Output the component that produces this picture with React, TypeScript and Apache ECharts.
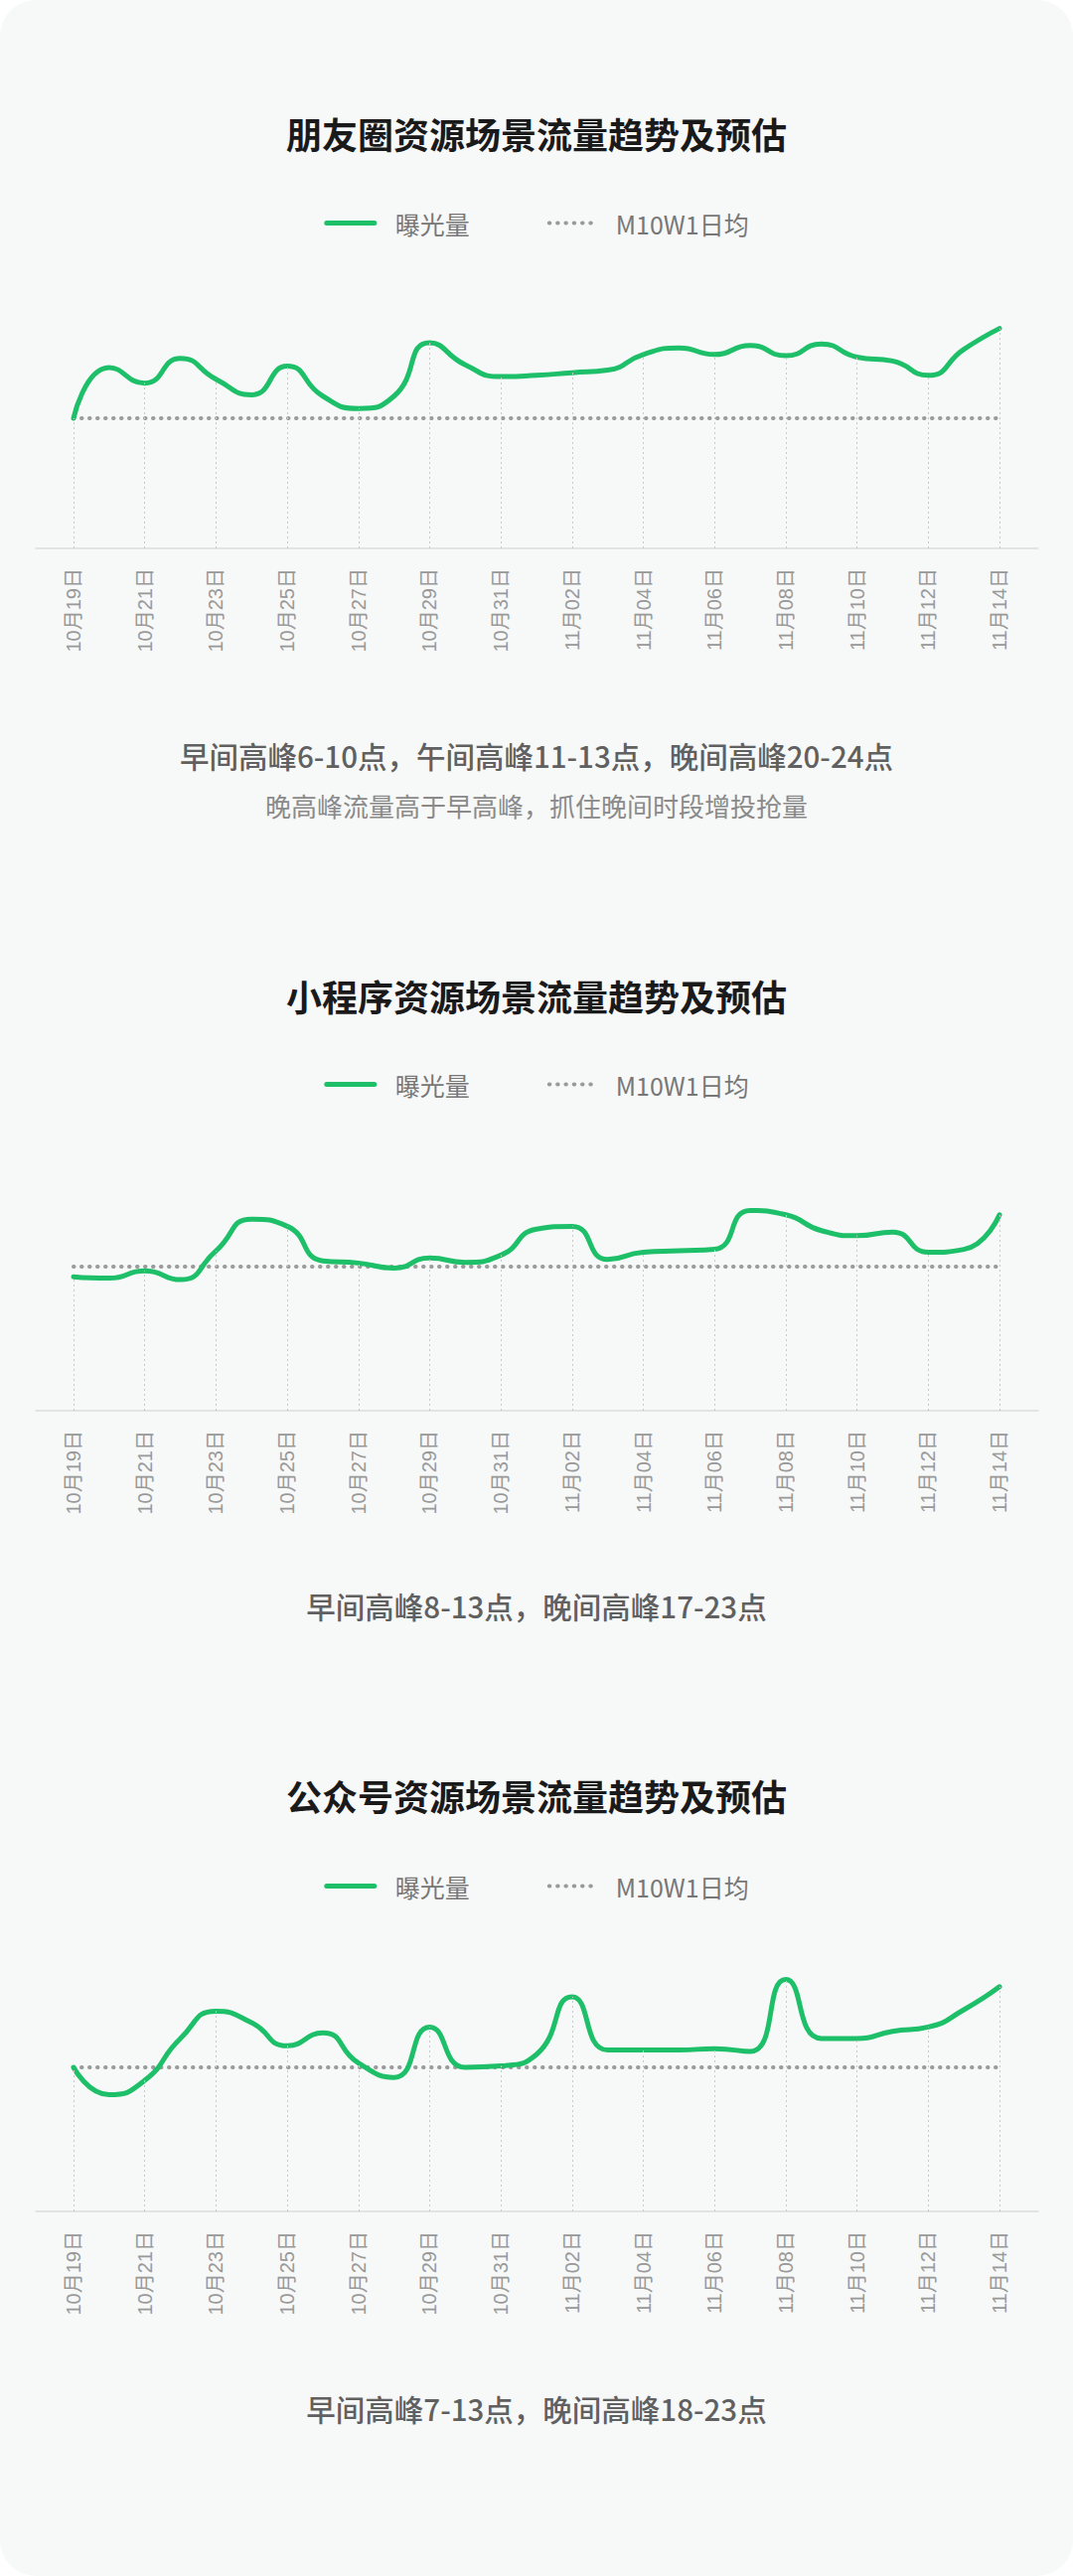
import React, { useEffect, useRef } from 'react';
import * as echarts from 'echarts';

const categories = [
  '10月19日', '10月20日', '10月21日', '10月22日', '10月23日', '10月24日', '10月25日',
  '10月26日', '10月27日', '10月28日', '10月29日', '10月30日', '10月31日', '11月01日',
  '11月02日', '11月03日', '11月04日', '11月05日', '11月06日', '11月07日', '11月08日',
  '11月09日', '11月10日', '11月11日', '11月12日', '11月13日', '11月14日',
];

// 曝光量, scaled so that the M10W1 daily average of each scene is 100
const momentsValues = [100, 139, 127, 146, 130, 118, 140, 117, 107.5, 117, 158, 141, 132, 133, 135, 137, 149, 154, 149, 156, 148, 157, 147, 144, 133, 153, 169];
const miniProgramValues = [93, 92, 97, 91, 111, 133, 128, 104, 102.5, 99, 106, 103, 108, 126, 128, 105, 110, 111, 112, 139, 136, 125, 121.5, 124, 110, 112, 136];
const officialValues = [100, 81, 91, 120, 139, 131, 115, 124, 103, 93, 128, 100, 101, 109, 149, 112, 112, 112, 113, 111, 161, 120, 120, 125, 128, 140, 156];
const dailyAverages = [100, 100, 100];

const seriesNames = ['曝光量', 'M10W1日均'];
const titles = ['朋友圈资源场景流量趋势及预估', '小程序资源场景流量趋势及预估', '公众号资源场景流量趋势及预估'];
const notes = [
  ['早间高峰6-10点，午间高峰11-13点，晚间高峰20-24点', '晚高峰流量高于早高峰，抓住晚间时段增投抢量'],
  ['早间高峰8-13点，晚间高峰17-23点'],
  ['早间高峰7-13点，晚间高峰18-23点'],
];

const GREEN = '#1dbf68';
const GREY = '#9a9a9a';
const NONE = 'rgba(0,0,0,0)';
const FONT = '"Noto Sans CJK SC", "Noto Sans", sans-serif';
const LABEL_FONT = '"Liberation Sans", "Noto Sans CJK SC", sans-serif';

// vertical layout of the three panels
const panels = [
  { values: momentsValues, title: 134, legend: 219, top: 290, height: 262, notes: [760, 810] },
  { values: miniProgramValues, title: 1002, legend: 1086, top: 1130, height: 290, notes: [1616] },
  { values: officialValues, title: 1807, legend: 1893, top: 1936, height: 290, notes: [2424] },
];

export default function App() {
  const chartRef = useRef<HTMLDivElement>(null);

  useEffect(() => {
    document.body.style.margin = '0';
    if (!chartRef.current) return;
    const chart = echarts.init(chartRef.current, undefined, { renderer: 'svg' });

    const grid: any[] = [];
    const xAxis: any[] = [];
    const yAxis: any[] = [];
    const series: any[] = [];
    const legend: any[] = [];
    const graphic: any[] = [];

    panels.forEach((p, k) => {
      grid.push({ left: 74, right: 74, top: p.top, height: p.height });
      grid.push({ left: 36, right: 35, top: p.top, height: p.height });

      xAxis.push({
        type: 'category',
        gridIndex: 2 * k,
        data: categories,
        boundaryGap: false,
        axisLine: { show: false },
        axisTick: { show: false },
        splitLine: { show: false },
        axisLabel: {
          interval: 1,
          rotate: 90,
          margin: 20,
          color: '#999',
          fontSize: 20,
          fontFamily: LABEL_FONT,
        },
      });
      xAxis.push({
        type: 'value',
        gridIndex: 2 * k + 1,
        min: 0,
        max: 1,
        axisLine: { show: true, lineStyle: { color: '#dcdcdc', width: 1.5 } },
        axisTick: { show: false },
        axisLabel: { show: false },
        splitLine: { show: false },
      });
      yAxis.push({ type: 'value', gridIndex: 2 * k, min: 0, max: 200, show: false });
      yAxis.push({ type: 'value', gridIndex: 2 * k + 1, min: 0, max: 1, show: false });

      const drops = categories
        .map((c, i) => ({ c, v: p.values[i], i }))
        .filter((d) => d.i % 2 === 0)
        .map((d) => [{ coord: [d.c, 0] }, { coord: [d.c, d.v] }]);

      series.push({
        name: seriesNames[0],
        type: 'line',
        xAxisIndex: 2 * k,
        yAxisIndex: 2 * k,
        data: p.values,
        smooth: 0.55,
        symbol: 'none',
        z: 3,
        lineStyle: { color: GREEN, width: 5, cap: 'round' },
        itemStyle: { color: GREEN },
        markLine: {
          silent: true,
          symbol: ['none', 'none'],
          label: { show: false },
          lineStyle: { color: '#c9c9c9', width: 1, type: [2, 3] },
          data: drops,
        },
      });
      series.push({
        name: seriesNames[1],
        type: 'line',
        xAxisIndex: 2 * k,
        yAxisIndex: 2 * k,
        data: categories.map(() => dailyAverages[k]),
        symbol: 'none',
        z: 2,
        lineStyle: { color: GREY, width: 4, type: [0.5, 7.5], cap: 'round' },
        itemStyle: { color: GREY },
      });

      legend.push({
        top: p.legend - 7,
        left: 'center',
        padding: 0,
        itemWidth: 48,
        itemHeight: 14,
        itemGap: 76,
        selectedMode: false,
        textStyle: { fontSize: 25, color: '#777', fontFamily: FONT, padding: [0, 0, 0, 16] },
        data: [
          {
            name: seriesNames[0],
            itemStyle: { color: NONE, borderColor: NONE, borderWidth: 0 },
            lineStyle: { color: GREEN, width: 5, cap: 'round' },
          },
          {
            name: seriesNames[1],
            itemStyle: { color: NONE, borderColor: NONE, borderWidth: 0 },
            lineStyle: { color: GREY, width: 4, type: [0.5, 7.8], cap: 'round', dashOffset: -2 },
          },
        ],
      });

      graphic.push({
        type: 'text',
        x: 540,
        y: p.title,
        style: {
          text: titles[k],
          align: 'center',
          verticalAlign: 'middle',
          fontSize: 36,
          fontWeight: 'bold',
          fill: '#1a1a1a',
          fontFamily: FONT,
        },
      });
      notes[k].forEach((t, j) => {
        graphic.push({
          type: 'text',
          x: 540,
          y: p.notes[j],
          style: {
            text: t,
            align: 'center',
            verticalAlign: 'middle',
            fontSize: j === 0 ? 29.5 : 26,
            fontWeight: j === 0 ? 500 : 'normal',
            fill: j === 0 ? '#606060' : '#8a8a8a',
            fontFamily: FONT,
          },
        });
      });
    });

    chart.setOption({
      animation: false,
      backgroundColor: 'transparent',
      grid,
      xAxis,
      yAxis,
      series,
      legend,
      graphic,
    });

    return () => {
      chart.dispose();
    };
  }, []);

  return (
    <div style={{ width: 1080, height: 2593, background: '#ffffff' }}>
      <div style={{ width: 1080, height: 2593, background: '#f7f8f8', borderRadius: 36 }}>
        <div ref={chartRef} style={{ width: 1080, height: 2593 }} />
      </div>
    </div>
  );
}
